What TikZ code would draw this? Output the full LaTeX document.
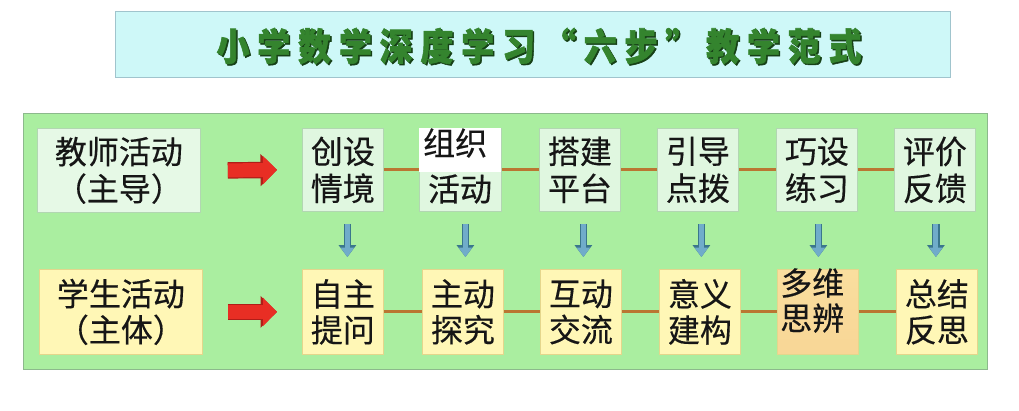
\documentclass[tikz,border=0pt]{standalone}
\usepackage{fontspec}
\newfontfamily\cjk[FakeBold=0.35]{Noto Sans CJK SC}
\newfontfamily\cjkt[BoldFeatures={FakeBold=1.6}]{Noto Sans CJK SC}
\usetikzlibrary{arrows.meta,calc}
\definecolor{bggreen}{RGB}{170,238,160}
\definecolor{bgborder}{RGB}{140,185,140}
\definecolor{topfill}{RGB}{224,247,224}
\definecolor{topborder}{RGB}{178,214,178}
\definecolor{botfill}{RGB}{255,247,182}
\definecolor{botborder}{RGB}{228,214,140}
\definecolor{peach}{RGB}{248,214,150}
\definecolor{linkbrown}{RGB}{186,118,50}
\definecolor{titlefill}{RGB}{206,248,248}
\definecolor{titleborder}{RGB}{160,196,205}
\definecolor{titlegreen}{RGB}{52,132,46}
\definecolor{titleshadow}{RGB}{22,64,22}
\definecolor{arrblue}{RGB}{112,172,202}
\definecolor{arrblueedge}{RGB}{58,118,140}
\definecolor{arrred}{RGB}{232,46,36}
\definecolor{arrrededge}{RGB}{176,30,24}
\definecolor{txt}{RGB}{22,22,22}
\newcommand\tch[1]{\makebox[40.8pt]{#1}}
\newcommand\titlestr{\scalebox{1}[1.14]{\tch{小}\tch{学}\tch{数}\tch{学}\tch{深}\tch{度}\tch{学}\tch{习}\tch{“}\tch{六}\tch{步}\tch{”}\tch{教}\tch{学}\tch{范}\tch{式}}}
\tikzset{
  stepbox/.style={draw=topborder, fill=topfill, line width=0.8pt, minimum width=81pt, minimum height=83pt, inner sep=0pt, anchor=north west, align=center, text=txt, font=\cjk\fontsize{32}{37}\selectfont},
  studbox/.style={stepbox, draw=botborder, fill=botfill, minimum height=85pt, font=\cjk\fontsize{32}{36}\selectfont},
  link/.style={draw=linkbrown, line width=3pt},
  redarr/.style={preaction={draw=arrrededge, line width=16.4pt, -{Triangle[length=16.5pt,width=31pt]}}, draw=arrred, line width=14pt, -{Triangle[length=14pt,width=27.5pt]}},
  bluearr/.style={preaction={draw=arrblueedge, line width=7.6pt, -{Triangle[length=12pt,width=17pt]}}, draw=arrblue, line width=5pt, -{Triangle[length=9.5pt,width=13pt]}},
  txtnode/.style={inner sep=0pt, text=txt, font=\cjk\fontsize{32}{35}\selectfont},
  titlefont/.style={inner sep=0pt, font=\cjkt\bfseries\fontsize{33}{33}\selectfont}
}
\begin{document}
\begin{tikzpicture}[x=1pt,y=-1pt]
\useasboundingbox (0,0) rectangle (1019,410);
\fill[white] (0,0) rectangle (1019,410);
% title
\node[draw=titleborder, fill=titlefill, line width=1pt, minimum width=835pt, minimum height=66pt, anchor=north west, inner sep=0pt] (title) at (115,11) {};
\node[titlefont, text=titleshadow] (titleshadowtext) at (540.5,47.5) {\titlestr};
\node[titlefont, text=titlegreen] (titletext) at (539,46) {\titlestr};
% green panel
\node[draw=bgborder, fill=bggreen, line width=1pt, minimum width=964pt, minimum height=256pt, anchor=north west, inner sep=0pt] (panel) at (23,113) {};
% role boxes
\node[stepbox, minimum width=163pt, minimum height=84pt, fill=topfill!80!white] (teach) at (37,128) {教师活动\\（主导）};
\node[studbox, minimum width=163pt] (stud) at (39,269) {学生活动\\（主体）};
% top row
\node[stepbox] (t1) at (302,128) {创设\\情境};
\node[stepbox, minimum width=82pt] (t2) at (419,128) {};
\fill[white] ([xshift=0.4pt,yshift=-0.4pt]t2.north west) rectangle ([xshift=-0.4pt]t2.east |- 0,172);
\node[txtnode, anchor=west] (t2a) at (423,143) {组织};
\node[txtnode] (t2b) at (460,189) {活动};
\node[stepbox] (t3) at (539,128) {搭建\\平台};
\node[stepbox] (t4) at (657,128) {引导\\点拨};
\node[stepbox] (t5) at (776,128) {巧设\\练习};
\node[stepbox] (t6) at (894,128) {评价\\反馈};
% bottom row
\node[studbox] (b1) at (302,269) {自主\\提问};
\node[studbox] (b2) at (422,269) {主动\\探究};
\node[studbox] (b3) at (540,269) {互动\\交流};
\node[studbox] (b4) at (659,269) {意义\\建构};
\node[studbox, top color=peach!75!botfill, bottom color=peach, shading angle=0] (b5) at (777,269) {};
\node[txtnode, anchor=north west, align=left] (b5t) at (780,268) {多维\\思辨};
\node[studbox] (b6) at (896,269) {总结\\反思};
% links
\foreach \a/\b in {t1/t2,t2/t3,t3/t4,t4/t5,t5/t6,b1/b2,b2/b3,b3/b4,b4/b5,b5/b6}
  \draw[link] (\a.east) -- (\b.west);
% red arrows
\draw[redarr] ([xshift=27pt]teach.east) -- ([xshift=-25pt]t1.west);
\draw[redarr] ([xshift=25pt]stud.east) -- ([xshift=-25pt]b1.west);
% blue arrows
\foreach \a/\b/\dx in {t1/b1/4.5,t2/b2/5,t3/b3/3.5,t4/b4/3.5,t5/b5/1.5,t6/b6/1}
  \draw[bluearr] ([xshift=\dx pt,yshift=-12pt]\a.south) -- ([xshift=\dx pt,yshift=12pt]\a.south |- \b.north);
\end{tikzpicture}
\end{document}
